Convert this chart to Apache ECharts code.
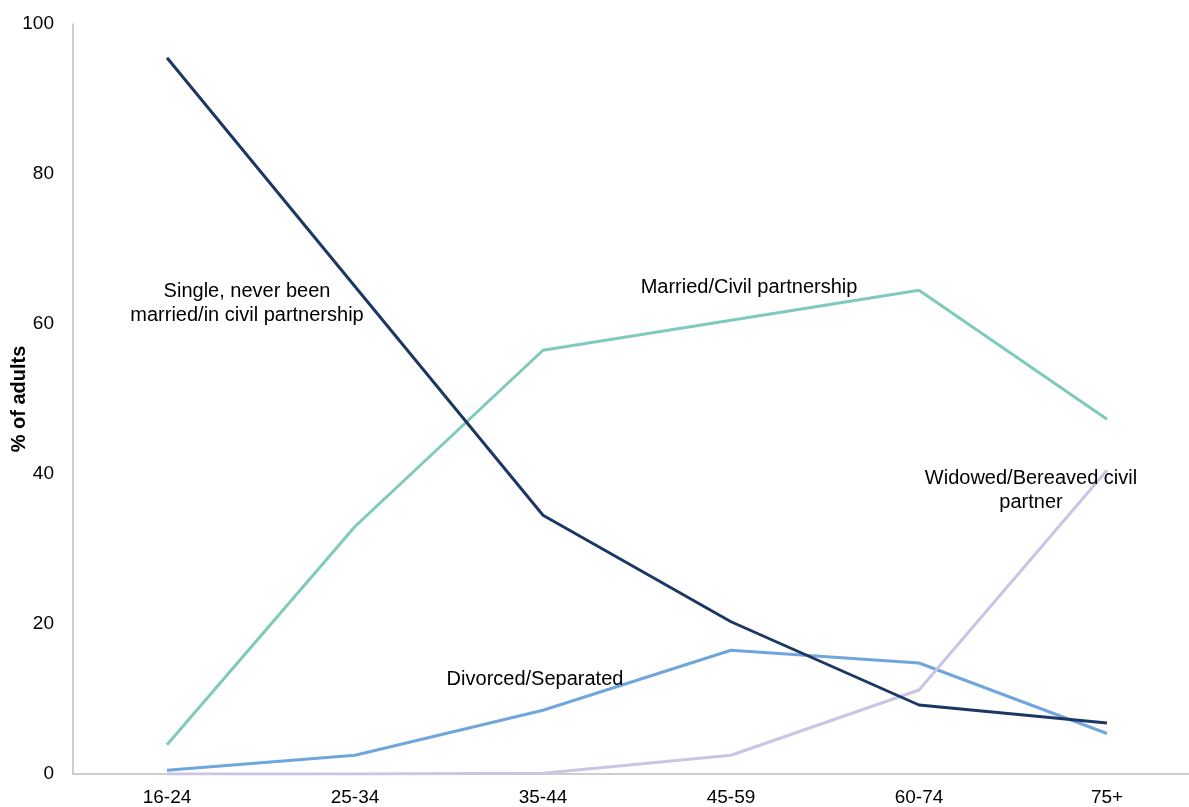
<!DOCTYPE html>
<html>
<head>
<meta charset="utf-8">
<script src="https://cdn.jsdelivr.net/npm/echarts@6/dist/echarts.min.js"></script>
<style>
  html, body { margin: 0; padding: 0; background: #fff; }
  #chart { width: 1189px; height: 807px; }
</style>
</head>
<body>
<div id="chart"></div>
<script>
var ageGroups = ['16-24', '25-34', '35-44', '45-59', '60-74', '75+'];

var single = [95.5, 65, 34.5, 20.3, 9.2, 6.8];
var married = [3.9, 33, 56.5, 60.5, 64.5, 47.3];
var divorced = [0.5, 2.5, 8.5, 16.5, 14.8, 5.4];
var widowed = [0, 0, 0.1, 2.5, 11.2, 40.5];

var yTicks = [0, 20, 40, 60, 80, 100];

var font = '"Liberation Sans", Arial, sans-serif';

var chart = echarts.init(document.getElementById('chart'));

function lineSeries(name, data, color) {
    return {
        name: name,
        type: 'line',
        data: data,
        symbol: 'none',
        smooth: false,
        lineStyle: { color: color, width: 3 },
        itemStyle: { color: color },
        z: 3
    };
}

// free-standing annotation text, centred on x
function note(lines, x, y) {
    return {
        type: 'text',
        x: x,
        y: y,
        style: {
            text: lines.join('\n'),
            font: '20px ' + font,
            fill: '#000',
            align: 'center',
            verticalAlign: 'top',
            lineHeight: 24
        },
        z: 10
    };
}

chart.setOption({
    backgroundColor: '#fff',
    animation: false,
    grid: { left: 73, right: -12, top: 24, bottom: 33, outerBoundsMode: 'none', containLabel: false },
    xAxis: {
        type: 'category',
        data: ageGroups,
        boundaryGap: true,
        axisLine: { lineStyle: { color: '#bfbfbf', width: 1.5 } },
        axisTick: { show: false },
        axisLabel: { color: '#000', fontFamily: font, fontSize: 19, margin: 14 }
    },
    yAxis: {
        type: 'value',
        min: yTicks[0],
        max: yTicks[yTicks.length - 1],
        interval: 20,
        name: '% of adults',
        nameLocation: 'middle',
        nameGap: 44,
        nameRotate: 90,
        nameMoveOverlap: false,
        nameTextStyle: { color: '#000', fontFamily: font, fontSize: 20, fontWeight: 'bold' },
        axisLine: { show: true, lineStyle: { color: '#bfbfbf', width: 1.5 } },
        axisTick: { show: false },
        splitLine: { show: false },
        axisLabel: { color: '#000', fontFamily: font, fontSize: 19, margin: 19 }
    },
    series: [
        lineSeries('Married/Civil partnership', married, '#7fcbbb'),
        lineSeries('Divorced/Separated', divorced, '#6fa6dc'),
        lineSeries('Widowed/Bereaved civil partner', widowed, '#c9c5e4'),
        lineSeries('Single, never been married/in civil partnership', single, '#1d3764')
    ],
    graphic: [
        note(['Single, never been', 'married/in civil partnership'], 247, 279),
        note(['Married/Civil partnership'], 749, 275),
        note(['Widowed/Bereaved civil', 'partner'], 1031, 466),
        note(['Divorced/Separated'], 535, 667)
    ]
});
</script>
</body>
</html>
